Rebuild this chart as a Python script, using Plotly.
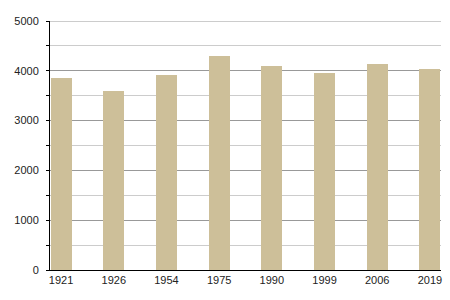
import plotly.graph_objects as go

years = ["1921", "1926", "1954", "1975", "1990", "1999", "2006", "2019"]
population = [3855, 3594, 3916, 4297, 4096, 3956, 4137, 4036]
y_ticks = [0, 1000, 2000, 3000, 4000, 5000]

fig = go.Figure(
    go.Bar(
        x=years,
        y=population,
        width=0.4,
        marker=dict(color="#CDBF99", line=dict(width=0)),
    )
)

fig.update_layout(
    width=450,
    height=300,
    margin=dict(l=50, r=9, t=21, b=30),
    paper_bgcolor="white",
    plot_bgcolor="white",
    font=dict(family="Liberation Sans, Arial, sans-serif", size=11, color="#222"),
    showlegend=False,
    bargap=0,
)

# top gridline at the range maximum (plotly drops grid lines at the range edge)
fig.add_shape(
    type="line", xref="paper", yref="y",
    x0=0, x1=1, y0=y_ticks[-1], y1=y_ticks[-1],
    line=dict(color="#999999", width=1),
    layer="below",
)

fig.update_xaxes(
    type="category",
    range=[-0.21, 7.21],
    showline=True,
    linecolor="black",
    linewidth=1,
    showgrid=False,
    ticks="",
    ticklen=0,
    tickfont=dict(size=11, color="#222"),
)

fig.update_yaxes(
    range=[0, 5000],
    tickvals=y_ticks,
    showline=True,
    linecolor="black",
    linewidth=1,
    showgrid=True,
    gridcolor="#999999",
    gridwidth=1,
    ticks="",
    ticklabelstandoff=8,
    tickfont=dict(size=11, color="#222"),
    zeroline=False,
    minor=dict(
        dtick=500,
        tick0=0,
        ticks="outside",
        ticklen=3,
        tickcolor="black",
        showgrid=True,
        gridcolor="#cccccc",
        gridwidth=1,
    ),
)

fig.write_html("out.html")
